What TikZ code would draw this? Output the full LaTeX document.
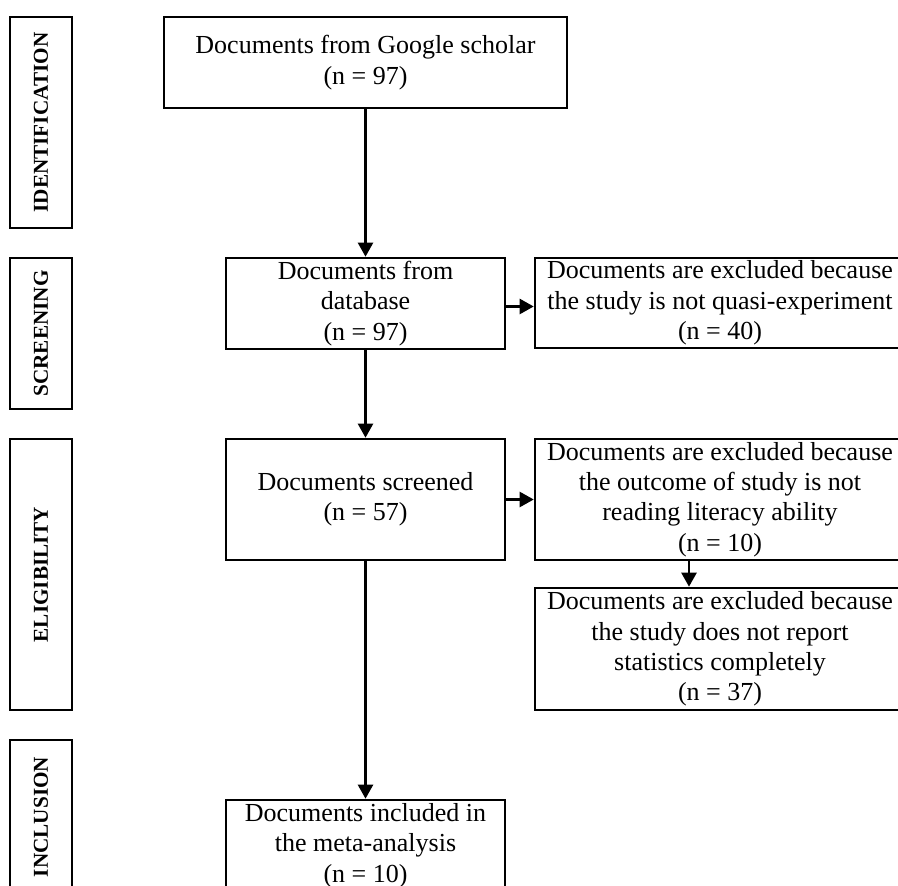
\documentclass[tikz,border=0pt]{standalone}
\usepackage{fontspec}
\setmainfont{Liberation Serif}
\usetikzlibrary{arrows.meta}
\begin{document}
\begin{tikzpicture}[x=0.5pt, y=-0.5pt, >={Triangle[length=7pt,width=7.5pt]},
	every node/.style={font=\fontsize{13}{15.2}\selectfont},
	flowbox/.style={draw, line width=1.3pt, align=center, inner sep=0pt},
	phase/.style={draw, line width=1.3pt, rotate=90, inner sep=0pt, font=\bfseries\fontsize{10.6}{12}\selectfont},
	link/.style={->, line width=1.2pt}]
	\useasboundingbox (0,0) rectangle (898,886);
	\clip (0,0) rectangle (898,886);
	\node[phase, minimum width=105.5pt, minimum height=31pt] (identification) at (41,122.5) {IDENTIFICATION};
	\node[phase, minimum width=75.5pt, minimum height=31pt] (screening) at (41,333.5) {SCREENING};
	\node[phase, minimum width=135.5pt, minimum height=31pt] (eligibility) at (41,574.5) {ELIGIBILITY};
	\node[phase, minimum width=77pt, minimum height=31pt] (inclusion) at (41,817) {INCLUSION};
	\node[flowbox, minimum width=201.5pt, minimum height=45.5pt] (google) at (365.5,62.5) {Documents from Google scholar\\(n = 97)};
	\node[flowbox, minimum width=139.5pt, minimum height=45.5pt] (database) at (365.5,303.5) {Documents from\\database\\(n = 97)};
	\node[flowbox, minimum width=185pt, minimum height=45pt] (quasi) at (720,303) {Documents are excluded because\\the study is not quasi-experiment\\(n = 40)};
	\node[flowbox, minimum width=139.5pt, minimum height=60.5pt] (screened) at (365.5,499.5) {Documents screened\\(n = 57)};
	\node[flowbox, minimum width=185pt, minimum height=60.5pt] (outcome) at (720,499.5) {Documents are excluded because\\the outcome of study is not\\reading literacy ability\\(n = 10)};
	\node[flowbox, minimum width=185pt, minimum height=61pt] (statistics) at (720,649) {Documents are excluded because\\the study does not report\\statistics completely\\(n = 37)};
	\node[flowbox, minimum width=139.5pt, minimum height=45.5pt] (included) at (365.5,845.5) {Documents included in\\the meta-analysis\\(n = 10)};
	\draw[link] (google) -- (database);
	\draw[link] ([yshift=-1.5pt]database.east) -- ([yshift=-1.5pt]database.east -| quasi.west);
	\draw[link] (database) -- (screened);
	\draw[link] (screened) -- (outcome);
	\draw[link] ([xshift=-15.5pt]outcome.south) -- ([xshift=-15.5pt]statistics.north);
	\draw[link] (screened) -- (included);
\end{tikzpicture}
\end{document}
